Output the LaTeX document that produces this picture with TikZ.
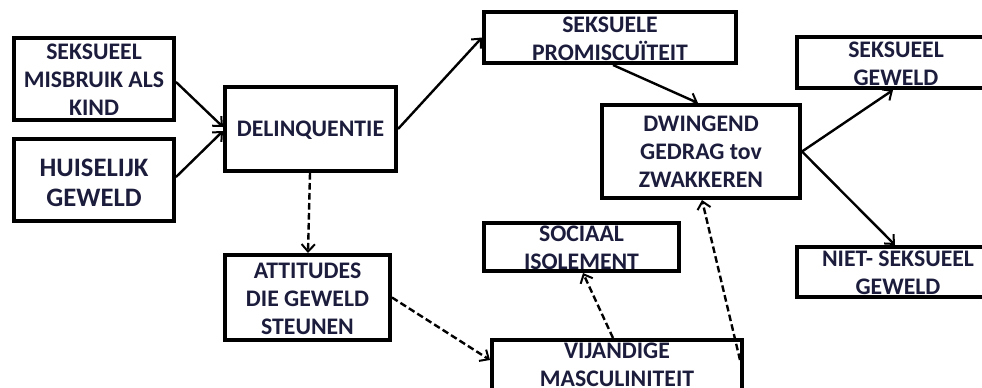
\documentclass[tikz,border=0pt]{standalone}
\usepackage{fontspec}
\setmainfont{Carlito}
\usetikzlibrary{arrows.meta}
\definecolor{ink}{HTML}{1C1C3C}
\tikzset{
  x=0.75pt, y=-0.75pt,
  box/.style 2 args={draw=black, line width=3.3pt, fill=white, inner sep=0pt,
    minimum width={#1*0.75pt-3.3pt}, minimum height={#2*0.75pt-3.3pt}},
  lbl/.style={text=ink, font=\bfseries\fontsize{17.8}{21}\selectfont,
    align=center, inner sep=0pt},
  biglbl/.style={lbl, font=\bfseries\fontsize{20}{22.5}\selectfont},
  link/.style={line width=1.8pt, -{Straight Barb[length=5.5pt,width=10pt,line width=1.5pt]}},
  dlink/.style={link, dash pattern=on 5pt off 2.5pt}
}
\begin{document}
\begin{tikzpicture}
\useasboundingbox (0,0) rectangle (982,387);
\clip (0,0) rectangle (982,387);
\fill[white] (0,0) rectangle (982,387);

% boxes
\node[box={164}{86}] (kind)   at (94,79)    {};
\node[box={164}{86}] (huis)   at (94,180)   {};
\node[box={175}{88}] (delin)  at (310.5,129) {};
\node[box={256}{55}] (promis) at (610,37.5) {};
\node[box={202}{97}] (dwing)  at (701,151.5) {};
\node[box={202}{55}] (sgew)   at (896,62.5) {};
\node[box={206}{54}] (nsgew)  at (898,272)  {};
\node[box={169}{89}] (attit)  at (307.5,297.5) {};
\node[box={199}{52}] (soc)    at (581.5,247) {};
\node[box={254}{54}] (vij)    at (617,365)  {};

% labels
\node[lbl]    (kindt)   at (94,80)     {SEKSUEEL\\MISBRUIK ALS\\KIND};
\node[biglbl] (huist)   at (94,183)    {HUISELIJK\\GEWELD};
\node[lbl]    (delint)  at (310.5,130) {DELINQUENTIE};
\node[lbl]    (promist) at (610,39)    {SEKSUELE\\PROMISCUÏTEIT};
\node[lbl]    (dwingt)  at (701,152)   {DWINGEND\\GEDRAG tov\\ZWAKKEREN};
\node[lbl]    (sgewt)   at (896,64)    {SEKSUEEL\\GEWELD};
\node[lbl]    (nsgewt)  at (898,273)   {NIET- SEKSUEEL\\GEWELD};
\node[lbl]    (attitt)  at (307.5,299) {ATTITUDES\\DIE GEWELD\\STEUNEN};
\node[lbl]    (soct)    at (581.5,248) {SOCIAAL\\ISOLEMENT};
\node[lbl]    (vijt)    at (617,365)   {VIJANDIGE\\MASCULINITEIT};

% solid connectors
\draw[link] (kind.east |- 0,82) -- (delin.west |- 0,127);
\draw[link] (huis.east |- 0,177) -- (delin.west |- 0,131);
\draw[link] (delin.east) -- (promis.west);
\draw[link] (promis.south -| 613,0) -- (dwing.north -| 698,0);
\draw[link] (dwing.east) -- (sgew.south -| 893,0);
\draw[link] (dwing.east) -- (nsgew.north -| 895,0);

% dashed connectors
\coordinate (vijr) at (740,360);
\draw[dlink] (delin.south -| 310,0) -- (attit.north -| 308,0);
\draw[dlink] (attit.east) -- (vij.west |- 0,360);
\draw[dlink] (vij.north -| 613,0) -- (soc.south -| 583,0);
\draw[dlink] (vijr) -- (dwing.south -| 702,0);
\end{tikzpicture}
\end{document}
